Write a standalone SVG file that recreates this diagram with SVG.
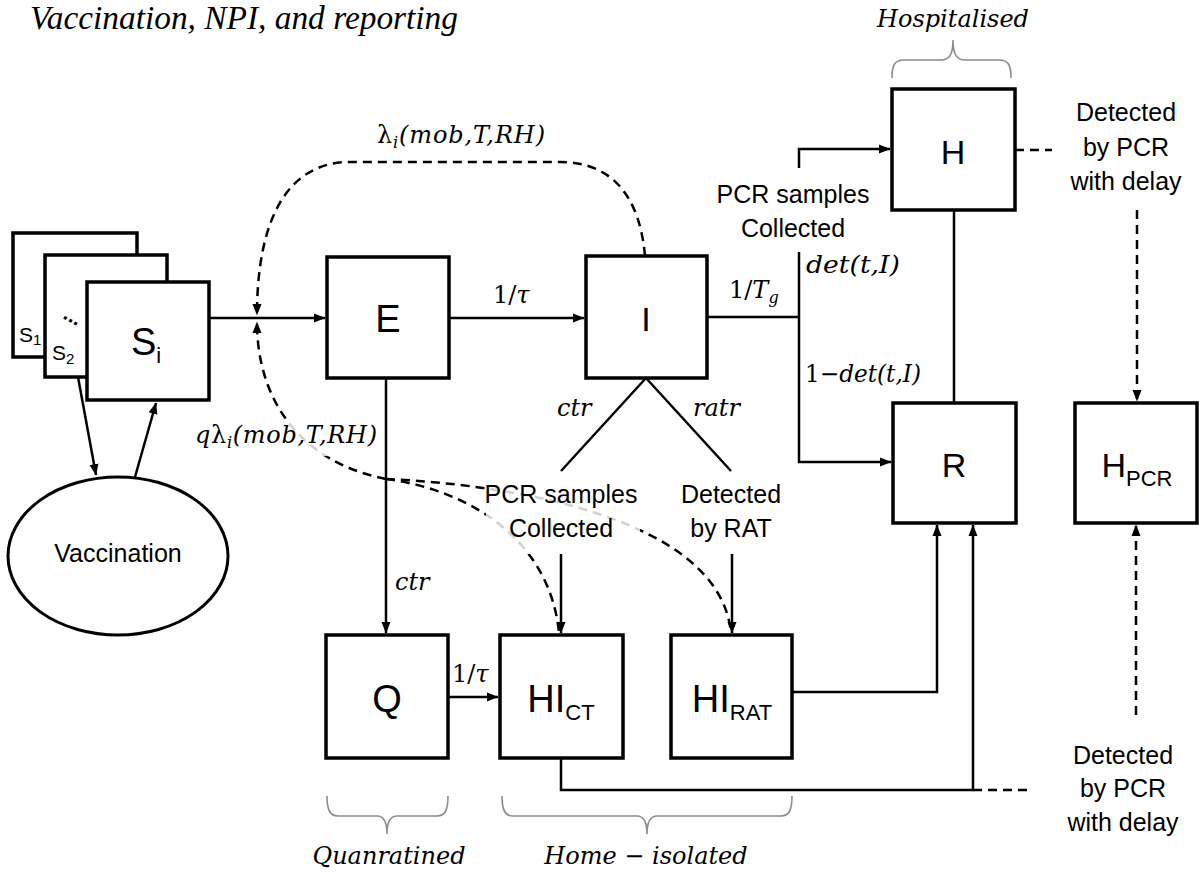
<svg xmlns="http://www.w3.org/2000/svg" width="1199" height="872" viewBox="0 0 1199 872">
<defs>
<style>
.box{fill:#fff;stroke:#000;stroke-width:3.5}
.ln{fill:none;stroke:#000;stroke-width:2.5}
.dash{fill:none;stroke:#000;stroke-width:2.5;stroke-dasharray:9 6}
.brace{fill:none;stroke:#8c8c8c;stroke-width:1.6}
.halo{fill:#fff;fill-opacity:0.82}
.node{font-family:"Liberation Sans",Arial,sans-serif;font-size:38px;fill:#000}
.nodes{font-family:"Liberation Sans",Arial,sans-serif;font-size:34px;fill:#000}
.sub{font-size:22px}
.small{font-family:"Liberation Sans",Arial,sans-serif;font-size:21px}
.ssub{font-size:15px}
.lbl{font-family:"Liberation Sans",Arial,sans-serif;font-size:25px;fill:#000}
.math{font-family:"DejaVu Serif","Liberation Serif",serif;font-style:italic;font-size:24px;fill:#000}
.up{font-style:normal}
.msub{font-size:16px}
.title{font-family:"Liberation Serif","Times New Roman",serif;font-style:italic;font-size:33px;fill:#000}
</style>
<marker id="arr" markerUnits="userSpaceOnUse" markerWidth="12" markerHeight="10" viewBox="0 0 12 10" refX="11" refY="5" orient="auto">
<path d="M0,0.5 L11.5,5 L0,9.5 z" fill="#000"/>
</marker>
</defs>
<rect width="1199" height="872" fill="#fff"/>

<text class="title" x="30" y="29" textLength="428" lengthAdjust="spacingAndGlyphs">Vaccination, NPI, and reporting</text>

<!-- braces -->
<g id="braces">
<path class="brace" d="M892,78 C892,66 894,60 904,60 L941,60 C949,60 953,55 953,40 C953,55 957,60 965,60 L999,60 C1009,60 1011,66 1011,78"/>
<path class="brace" d="M327,796 C327,810 330,816 338,816 L377,816 C383,816 387,820 387,834 C387,820 391,816 397,816 L437,816 C445,816 448,810 448,796"/>
<path class="brace" d="M502,796 C502,810 505,816 513,816 L637,816 C643,816 647,820 647,834 C647,820 651,816 657,816 L781,816 C789,816 792,810 792,796"/>
</g>

<!-- connectors -->
<g id="connectors">
<path class="ln" d="M209,318 H325" marker-end="url(#arr)"/>
<path class="ln" d="M449,318 H584" marker-end="url(#arr)"/>
<path class="ln" d="M707,317 H799"/>
<path class="ln" d="M799,252 V462 H891" marker-end="url(#arr)"/>
<path class="ln" d="M799,168 V149 H890" marker-end="url(#arr)"/>
<path class="ln" d="M954,210 V403"/>
<path class="ln" d="M646,378 L561,471 M646,378 L731,471"/>
<path class="ln" d="M561,554 V633" marker-end="url(#arr)"/>
<path class="ln" d="M732,554 V633" marker-end="url(#arr)"/>
<path class="ln" d="M386,378 V633" marker-end="url(#arr)"/>
<path class="ln" d="M448,697 H498" marker-end="url(#arr)"/>
<path class="ln" d="M792,692 H937 V525" marker-end="url(#arr)"/>
<path class="ln" d="M561,758 V790 H973 V525" marker-end="url(#arr)"/>
<path class="ln" d="M78,377 L96,475" marker-end="url(#arr)"/>
<path class="ln" d="M135,477 L156,403" marker-end="url(#arr)"/>
<path class="dash" d="M973,790 H1033"/>
<path class="dash" d="M1015,150 H1052"/>
<path class="dash" d="M1137,210 V401" marker-end="url(#arr)"/>
<path class="dash" d="M1136,715 V525" marker-end="url(#arr)"/>
<path class="dash" d="M645,256 C640,200 615,162 560,162 L350,162 C290,162 257,215 257,315" marker-end="url(#arr)"/>
<path class="dash" d="M386,479 C300,462 257,400 257,322" marker-end="url(#arr)"/>
<path class="dash" d="M386,479 C470,490 550,540 559,633"/>
<path class="dash" d="M386,479 C520,485 720,520 731,633"/>
</g>

<!-- light halos behind labels crossing dashed lines -->
<rect class="halo" x="193" y="420" width="186" height="36"/>
<rect class="halo" x="486" y="482" width="154" height="72"/>

<!-- nodes -->
<g id="S1"><rect class="box" x="13" y="233" width="124" height="124"/><text class="small" x="19" y="342">S<tspan class="ssub" dy="3">1</tspan></text></g>
<g id="S2"><rect class="box" x="45" y="255" width="122" height="122"/><text class="small" x="52" y="360">S<tspan class="ssub" dy="4">2</tspan></text><text class="small" x="62" y="318" transform="rotate(28 62 318)" font-weight="bold">...</text></g>
<g id="Si"><rect class="box" x="87" y="282" width="122" height="118"/><text class="node" x="146" y="355" text-anchor="middle">S<tspan class="sub" dy="8">i</tspan></text></g>
<g id="Vaccination"><ellipse cx="118" cy="556" rx="110" ry="79" fill="#fff" stroke="#000" stroke-width="3"/><text class="lbl" x="118" y="562" text-anchor="middle" font-size="24">Vaccination</text></g>
<g id="E"><rect class="box" x="327" y="257" width="122" height="121"/><text class="node" x="388" y="332" text-anchor="middle">E</text></g>
<g id="I"><rect class="box" x="586" y="256" width="121" height="122"/><text class="nodes" x="646" y="331" text-anchor="middle">I</text></g>
<g id="H"><rect class="box" x="892" y="89" width="123" height="121"/><text class="nodes" x="953" y="164" text-anchor="middle">H</text></g>
<g id="R"><rect class="box" x="893" y="403" width="123" height="120"/><text class="nodes" x="954" y="477" text-anchor="middle">R</text></g>
<g id="HPCR"><rect class="box" x="1075" y="403" width="122" height="120"/><text class="nodes" x="1137" y="477" text-anchor="middle">H<tspan class="sub" dy="9">PCR</tspan></text></g>
<g id="Q"><rect class="box" x="326" y="635" width="122" height="123"/><text class="node" x="387" y="712" text-anchor="middle">Q</text></g>
<g id="HICT"><rect class="box" x="500" y="635" width="123" height="123"/><text class="node" x="561" y="712" text-anchor="middle">HI<tspan class="sub" dy="8">CT</tspan></text></g>
<g id="HIRAT"><rect class="box" x="671" y="635" width="121" height="123"/><text class="node" x="732" y="712" text-anchor="middle">HI<tspan class="sub" dy="8">RAT</tspan></text></g>

<!-- labels -->
<g id="labels">
<text class="math" x="377" y="143" textLength="168" lengthAdjust="spacing"><tspan class="up">λ</tspan><tspan class="msub" dy="5">i</tspan><tspan dy="-5">(mob,T,RH)</tspan></text>
<text class="math" x="195" y="443" textLength="182" lengthAdjust="spacing">q<tspan class="up">λ</tspan><tspan class="msub" dy="5">i</tspan><tspan dy="-5">(mob,T,RH)</tspan></text>
<text class="math" x="493" y="303"><tspan class="up">1/</tspan>τ</text>
<text class="math" x="452" y="682"><tspan class="up">1/</tspan>τ</text>
<text class="math" x="729" y="298"><tspan class="up">1/</tspan>T<tspan class="msub" dy="5">g</tspan></text>
<text class="math" x="806" y="273" textLength="94" lengthAdjust="spacingAndGlyphs">det(t,I)</text>
<text class="math" x="805" y="382" textLength="116" lengthAdjust="spacingAndGlyphs"><tspan class="up">1−</tspan>det(t,I)</text>
<text class="math" x="557" y="416">ctr</text>
<text class="math" x="693" y="416">ratr</text>
<text class="math" x="395" y="590">ctr</text>
<text class="math" x="953" y="27" text-anchor="middle">Hospitalised</text>
<text class="math" x="389" y="864" text-anchor="middle">Quanratined</text>
<text class="math" x="646" y="864" text-anchor="middle">Home − isolated</text>
<text class="lbl" text-anchor="middle"><tspan x="793" y="203">PCR samples</tspan><tspan x="793" y="237">Collected</tspan></text>
<text class="lbl" text-anchor="middle"><tspan x="561" y="503">PCR samples</tspan><tspan x="561" y="537">Collected</tspan></text>
<text class="lbl" text-anchor="middle"><tspan x="731" y="503">Detected</tspan><tspan x="731" y="537">by RAT</tspan></text>
<text class="lbl" text-anchor="middle"><tspan x="1126" y="121">Detected</tspan><tspan x="1126" y="156">by PCR</tspan><tspan x="1126" y="190">with delay</tspan></text>
<text class="lbl" text-anchor="middle"><tspan x="1123" y="764">Detected</tspan><tspan x="1123" y="797">by PCR</tspan><tspan x="1123" y="831">with delay</tspan></text>
</g>
</svg>
